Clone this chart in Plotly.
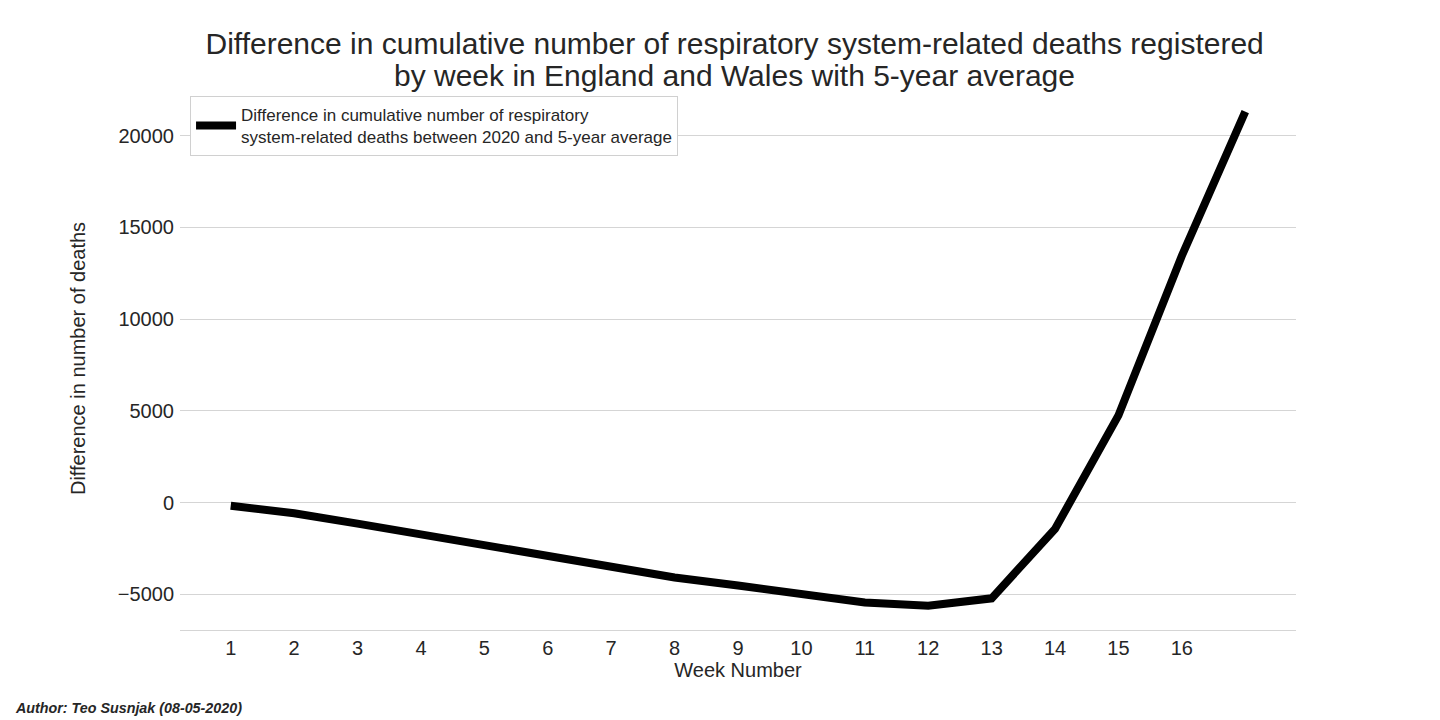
import plotly.graph_objects as go

weeks = list(range(1, 18))
diff_values = [-170, -580, -1150, -1750, -2290, -2900, -3480, -4080, -4520, -5000, -5450, -5620, -5220, -1440, 4750, 13450, 21300]
x_tick_vals = list(range(1, 17))
x_tick_text = [str(v) for v in x_tick_vals]
y_tick_vals = [-5000, 0, 5000, 10000, 15000, 20000]
y_tick_text = ["\u22125000", "0", "5000", "10000", "15000", "20000"]

title_line1 = "Difference in cumulative number of respiratory system-related deaths registered"
title_line2 = "by week in England and Wales with 5-year average"
legend_name = ("Difference in cumulative number of respiratory<br>"
               "system-related deaths between 2020 and 5-year average")

FONT = "Liberation Sans, Arial, sans-serif"
TXT = "#262626"

# figure is offset by 8px body margin in the browser
W, H = 1424, 712
L, R, T, B = 172, 136, 79, 90
PH = H - T - B

fig = go.Figure()
fig.add_trace(go.Scatter(
    x=weeks, y=diff_values, mode="lines", name=legend_name,
    line=dict(color="black", width=8), showlegend=True,
))

fig.update_layout(
    width=W, height=H,
    paper_bgcolor="white", plot_bgcolor="white",
    margin=dict(l=L, r=R, t=T, b=B, autoexpand=False),
    font=dict(family=FONT, color=TXT),
    title=dict(text=title_line1, x=0.497, xref="paper", xanchor="center",
               y=1 - 35 / H, yref="container", yanchor="middle",
               font=dict(size=30, color=TXT, family=FONT)),
    showlegend=True,
    legend=dict(x=0.009, y=(H - B - 88) / PH, xanchor="left", yanchor="top",
                bgcolor="white", bordercolor="#d0d0d0", borderwidth=1,
                font=dict(size=17, color=TXT, family=FONT),
                itemwidth=40, tracegroupgap=0),
    xaxis=dict(range=[0.2, 17.8], tickvals=x_tick_vals, ticktext=x_tick_text,
               showgrid=False, zeroline=False, showline=True, linecolor="#d5d5d5",
               linewidth=1, ticks="", tickfont=dict(size=20, color=TXT),
               title=dict(text="Week Number", font=dict(size=20, color=TXT), standoff=2)),
    yaxis=dict(range=[-6945, 22645], tickvals=y_tick_vals, ticktext=y_tick_text,
               showgrid=True, gridcolor="#d5d5d5", gridwidth=1, zeroline=False,
               showline=False, ticks="", tickfont=dict(size=20, color=TXT),
               ticklabelstandoff=5,
               title=dict(text="Difference in number of deaths", font=dict(size=20, color=TXT),
                          standoff=26)),
)

fig.add_annotation(text=title_line2, xref="paper", yref="paper", x=0.497,
                   y=(H - B - 68) / PH, xanchor="center", yanchor="middle",
                   showarrow=False, font=dict(size=30, color=TXT, family=FONT))

fig.add_annotation(text="<b><i>Author: Teo Susnjak (08-05-2020)</i></b>",
                   xref="paper", yref="paper", x=(5 - L) / (W - L - R), y=(H - B - 700) / PH,
                   xanchor="left", yanchor="middle", showarrow=False,
                   font=dict(size=14.3, color=TXT, family=FONT))

fig.write_html("out.html")
